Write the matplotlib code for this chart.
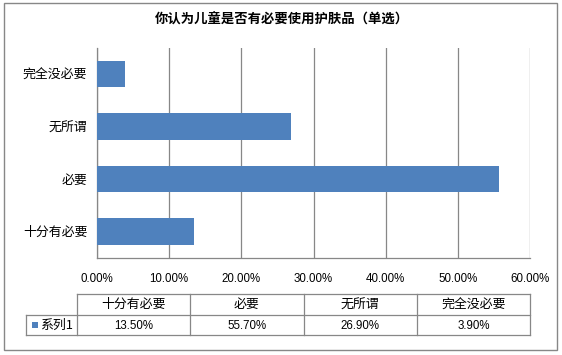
import matplotlib
matplotlib.use("Agg")
import matplotlib.pyplot as plt
from matplotlib.lines import Line2D
from matplotlib.patches import Rectangle

plt.rcParams['font.family'] = ['Noto Sans CJK SC', 'DejaVu Sans']

title = "你认为儿童是否有必要使用护肤品（单选）"
categories = ["十分有必要", "必要", "无所谓", "完全没必要"]
values = [13.50, 55.70, 26.90, 3.90]
series_name = "系列1"
xticks = [0, 10, 20, 30, 40, 50, 60]

W, H = 562, 355
BAR = "#4F81BD"
GRAY = "#878787"

fig = plt.figure(figsize=(W / 100, H / 100), dpi=100)

def fx(x):
    return x / W

def fy(y):
    return 1 - y / H

# outer border
fig.add_artist(Rectangle((fx(3.7), fy(350)), fx(556.7) - fx(3.7), fy(3.3) - fy(350),
                         fill=False, edgecolor=GRAY, linewidth=1.0))

fig.text(fx(281.5), fy(20), title, ha="center", va="center",
         fontsize=9.6, fontweight="bold")

L, R, T, B = 97, 530, 48, 257.5
ax = fig.add_axes([fx(L), fy(B), fx(R) - fx(L), fy(T) - fy(B)])
ypos = list(range(len(categories)))
ax.barh(ypos, values, height=0.506, color=BAR, zorder=3)
ax.set_xlim(0, 60)
ax.set_ylim(-0.5, len(categories) - 0.5)
ax.set_xticks(xticks)
ax.set_xticklabels([f"{v:.2f}%" for v in xticks], fontfamily="Liberation Sans", fontsize=8.3)
ax.set_yticks(ypos)
ax.set_yticklabels(categories, fontsize=9.3)
ax.tick_params(axis="both", length=0)
ax.tick_params(axis="x", pad=11)
ax.tick_params(axis="y", pad=7)
ax.grid(axis="x", color=GRAY, linewidth=0.9, zorder=0)
for s in ["top", "right"]:
    ax.spines[s].set_visible(False)
for s in ["left", "bottom"]:
    ax.spines[s].set_color(GRAY)
    ax.spines[s].set_linewidth(0.9)

# data table
t_top, t_mid, t_bot = 294.3, 315.3, 335.0
c_left, c_right = 77.0, 530.0
leg_left = 26.0
n = len(categories)
cw = (c_right - c_left) / n

def hline(x0, x1, y):
    fig.add_artist(Line2D([fx(x0), fx(x1)], [fy(y), fy(y)], color=GRAY, linewidth=0.9))

def vline(x, y0, y1):
    fig.add_artist(Line2D([fx(x), fx(x)], [fy(y0), fy(y1)], color=GRAY, linewidth=0.9))

hline(c_left, c_right, t_top)
hline(leg_left, c_right, t_mid)
hline(leg_left, c_right, t_bot)
vline(leg_left, t_mid, t_bot)
for i in range(n + 1):
    vline(c_left + i * cw, t_top, t_bot)

for i, (cat, v) in enumerate(zip(categories, values)):
    cx = c_left + (i + 0.5) * cw
    fig.text(fx(cx), fy((t_top + t_mid) / 2), cat, ha="center", va="center", fontsize=9.3)
    fig.text(fx(cx), fy((t_mid + t_bot) / 2 + 0.5), f"{v:.2f}%", ha="center", va="center",
             fontfamily="Liberation Sans", fontsize=8.3)

fig.add_artist(Rectangle((fx(32), fy(328.3)), fx(38.3) - fx(32), fy(322) - fy(328.3),
                         facecolor=BAR, edgecolor="none"))
fig.text(fx(40.5), fy((t_mid + t_bot) / 2), series_name, ha="left", va="center", fontsize=9.3)

fig.savefig("out.png", dpi=100)
